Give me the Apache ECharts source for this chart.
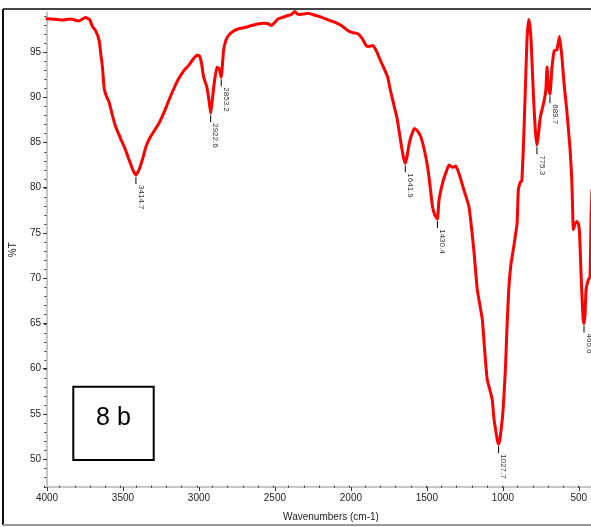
<!DOCTYPE html>
<html>
<head>
<meta charset="utf-8">
<script src="https://cdn.jsdelivr.net/npm/echarts@6/dist/echarts.min.js"></script>
<style>
  html, body { margin: 0; padding: 0; background: #fff; }
  #chart { width: 591px; height: 527px; }
</style>
</head>
<body>
<div id="chart"></div>
<script>
// FTIR spectrum, sample 8 b: wavenumber (cm-1) and transmittance (%T)
const wavenumbers = [
  4000, 3950, 3897, 3845, 3792, 3747, 3720, 3701, 3681, 3657,
  3645, 3635, 3624, 3609, 3591, 3570, 3548, 3517, 3483, 3452,
  3432, 3414.7, 3392, 3373, 3347, 3319, 3264, 3229, 3198, 3164,
  3133, 3098, 3067, 3039, 3013, 2997, 2984, 2969, 2948, 2934,
  2922.6, 2912, 2902, 2882, 2867, 2853.2, 2838, 2823, 2805, 2777,
  2740, 2699, 2653, 2614, 2576, 2548, 2522, 2502, 2478, 2443,
  2413, 2391, 2369, 2352, 2337, 2312, 2282, 2240, 2195, 2155,
  2107, 2063, 2020, 1991, 1954, 1926, 1900, 1880, 1856, 1834,
  1801, 1782, 1758, 1743, 1714, 1696, 1670, 1654, 1641.9, 1631,
  1618, 1605, 1583, 1566, 1540, 1507, 1485, 1463, 1448, 1430.4,
  1420, 1397, 1376, 1354, 1332, 1310, 1289, 1256, 1223, 1191,
  1168, 1135, 1120, 1103, 1086, 1070, 1058, 1048, 1036, 1027.7,
  1019, 1011, 1002, 994, 983, 973, 961, 947, 928, 906,
  898, 884, 875, 863, 852, 841, 830, 822, 814, 797,
  786, 775.3, 766, 753, 732, 717, 709, 700, 689.7, 676,
  661, 644, 627, 611, 596, 579, 557, 546, 541, 536,
  525, 513, 502, 495, 487, 481, 472, 465.6, 459, 452,
  437, 426, 419, 413
];
const transmittance = [
  98.68, 98.63, 98.55, 98.66, 98.44, 98.83, 98.6, 97.83, 97.39, 96.29,
  94.64, 93.35, 91.0, 90.12, 89.45, 88.02, 86.73, 85.49, 84.16, 82.73,
  81.85, 81.4, 82.07, 83.06, 84.6, 85.63, 87.1, 88.35, 89.67, 91.0,
  92.07, 92.98, 93.53, 94.2, 94.64, 94.58, 93.86, 92.24, 91.14, 89.67,
  88.24, 89.67, 91.22, 93.31, 93.17, 92.21, 95.19, 96.29, 96.84, 97.28,
  97.58, 97.72, 97.94, 98.11, 98.2, 98.16, 97.94, 98.27, 98.68, 98.88,
  99.05, 99.16, 99.49, 99.21, 99.16, 99.21, 99.3, 99.1, 98.86, 98.6,
  98.31, 97.94, 97.39, 97.17, 97.03, 96.51, 95.74, 95.63, 95.74, 95.19,
  93.9, 93.2, 92.24, 91.0, 88.94, 87.69, 84.9, 83.39, 82.7, 83.39,
  84.71, 85.6, 86.55, 86.37, 85.65, 83.42, 81.08, 77.91, 77.0, 76.52,
  78.65, 80.49, 81.59, 82.51, 82.26, 82.4, 81.59, 79.75, 77.91, 73.14,
  68.73, 65.42, 62.11, 58.8, 57.7, 56.6, 54.39, 53.29, 52.08, 51.64,
  52.19, 53.29, 54.62, 56.6, 59.91, 64.32, 68.73, 71.48, 73.5, 76.08,
  79.75, 80.63, 80.74, 85.26, 90.78, 96.29, 98.6, 97.94, 96.29, 89.67,
  86.37, 84.71, 85.8, 87.83, 89.31, 90.78, 93.35, 91.33, 90.34, 93.35,
  95.19, 95.24, 96.73, 94.45, 91.33, 88.57, 84.16, 80.85, 77.91, 75.34,
  76.0, 76.26, 76.0, 75.01, 71.3, 68.73, 65.64, 64.98, 65.97, 68.73,
  69.83, 70.16, 77.0, 79.75
];

// Picked absorption bands
const peakWavenumbers = [3414.7, 2922.6, 2853.2, 1641.9, 1430.4, 1027.7, 775.3, 689.7, 465.6];
const peakLabels = ['3414.7', '2922.6', '2853.2', '1641.9', '1430.4', '1027.7', '775.3', '689.7', '465.6'];

// Axis ticks
const xTickLabels = [4000, 3500, 3000, 2500, 2000, 1500, 1000, 500];
const yTickLabels = [50, 55, 60, 65, 70, 75, 80, 85, 90, 95];

const xMinorTicks = [];
for (let w = 4000; w >= 500; w -= 100) xMinorTicks.push(w);
const yMinorTicks = [];
for (let t = 47; t <= 99; t++) yMinorTicks.push(t);

// visible window of the scan
const X_MIN = 419.6, X_MAX = 4000;
const Y_MIN = 46.9, Y_MAX = 99.4;

const spectrum = wavenumbers.map((w, i) => [w, transmittance[i]]);
const peaks = peakWavenumbers.map(w => [w, transmittance[wavenumbers.indexOf(w)]]);

const narrow = "'Liberation Sans Narrow', 'Liberation Sans', Arial";
const tickFont = { fontFamily: narrow, fontSize: 10, color: '#222', formatter: v => String(v) };
const axisLineStyle = { color: '#c6c6c6', width: 2 };
const gridBox = { left: 44.3, right: 0, top: 12.3, bottom: 39.3, containLabel: false };

const chart = echarts.init(document.getElementById('chart'), null, { renderer: 'canvas' });

chart.setOption({
  animation: false,
  backgroundColor: '#fff',
  // grid 0 carries the spectrum, grid 1 (same box) only the fine tick marks
  grid: [gridBox, gridBox],
  xAxis: [
    {
      gridIndex: 0, type: 'value', min: X_MIN, max: X_MAX, inverse: true, position: 'bottom',
      axisLine: { show: true, lineStyle: axisLineStyle },
      axisTick: { show: true, customValues: xTickLabels, length: 4, lineStyle: { color: '#333', width: 1 } },
      axisLabel: { show: true, customValues: xTickLabels, margin: 6, ...tickFont },
      splitLine: { show: false },
      name: 'Wavenumbers (cm-1)', nameLocation: 'middle', nameGap: 25,
      nameTextStyle: { fontFamily: narrow, fontSize: 10, color: '#222', padding: [0, 0, 0, 24] }
    },
    {
      gridIndex: 1, type: 'value', min: X_MIN, max: X_MAX, inverse: true, position: 'bottom',
      axisLine: { show: false },
      axisTick: { show: true, inside: true, customValues: xMinorTicks, length: 2, lineStyle: { color: '#333', width: 1 } },
      axisLabel: { show: false },
      splitLine: { show: false }
    }
  ],
  yAxis: [
    {
      gridIndex: 0, type: 'value', min: Y_MIN, max: Y_MAX, position: 'left',
      axisLine: { show: true, lineStyle: axisLineStyle },
      axisTick: { show: true, customValues: yTickLabels, length: 4, lineStyle: { color: '#333', width: 1 } },
      axisLabel: { show: true, customValues: yTickLabels, margin: 6, ...tickFont },
      splitLine: { show: false },
      name: '%T', nameLocation: 'middle', nameGap: 29, nameRotate: 90,
      nameTextStyle: { fontFamily: narrow, fontSize: 10, color: '#222' }
    },
    {
      gridIndex: 1, type: 'value', min: Y_MIN, max: Y_MAX, position: 'left',
      axisLine: { show: false },
      axisTick: { show: true, inside: true, customValues: yMinorTicks, length: 2, lineStyle: { color: '#333', width: 1 } },
      axisLabel: { show: false },
      splitLine: { show: false }
    }
  ],
  series: [
    {
      type: 'line',
      data: spectrum,
      xAxisIndex: 0, yAxisIndex: 0,
      showSymbol: false,
      clip: false,
      smooth: 0.15,
      lineStyle: { color: '#ff0000', width: 3, join: 'round', cap: 'round' },
      z: 3
    },
    {
      type: 'custom',
      data: peaks,
      xAxisIndex: 0, yAxisIndex: 0,
      clip: false,
      z: 4,
      renderItem: function (params, api) {
        const p = api.coord([api.value(0), api.value(1)]);
        return {
          type: 'group',
          children: [
            {
              type: 'line',
              shape: { x1: p[0], y1: p[1] + 2, x2: p[0], y2: p[1] + 9 },
              style: { stroke: '#000', lineWidth: 1 }
            },
            {
              type: 'text',
              x: p[0] + 1, y: p[1] + 10,
              rotation: -Math.PI / 2,
              style: {
                text: peakLabels[params.dataIndex],
                fill: '#333',
                font: "8px 'Liberation Sans', Arial",
                align: 'left',
                verticalAlign: 'bottom'
              }
            }
          ]
        };
      }
    }
  ],
  graphic: [
    // outer frame
    { type: 'line', shape: { x1: 3, y1: 9, x2: 591, y2: 9 }, style: { stroke: '#444', lineWidth: 2 } },
    { type: 'line', shape: { x1: 3, y1: 9, x2: 3, y2: 525 }, style: { stroke: '#111', lineWidth: 2 } },
    { type: 'line', shape: { x1: 3, y1: 525, x2: 591, y2: 525 }, style: { stroke: '#999', lineWidth: 2 } },
    // sample tag
    { type: 'rect', shape: { x: 73.3, y: 386.7, width: 80.4, height: 73.3 },
      style: { fill: '#fff', stroke: '#000', lineWidth: 2 }, z: 10 },
    { type: 'text', x: 113.5, y: 418, z: 11,
      style: { text: '8 b', font: "25px 'Liberation Sans', Arial", fill: '#000', align: 'center', verticalAlign: 'middle' } }
  ]
});
</script>
</body>
</html>
